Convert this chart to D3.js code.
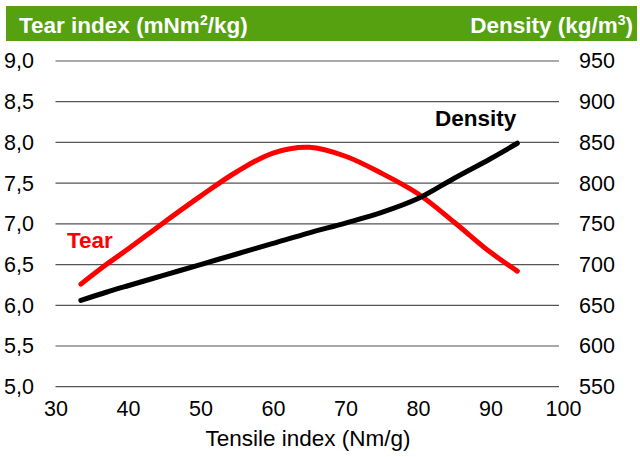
<!DOCTYPE html>
<html><head><meta charset="utf-8">
<script src="https://cdn.jsdelivr.net/npm/d3@7"></script>
<style>body{margin:0;background:#fff}svg{display:block;font-family:"Liberation Sans",Arial,sans-serif}</style>
</head><body><svg id="c" width="640" height="457"></svg>
<script>
const tensile = [33.5, 37, 40, 45, 50, 55, 60, 65, 70, 75, 80, 85, 90, 93.7];
const tear    = [6.26, 6.5, 6.69, 7.02, 7.34, 7.64, 7.87, 7.94, 7.83, 7.62, 7.37, 7.02, 6.65, 6.42];
const density = [656, 666, 674, 687, 700, 713, 726, 739, 751, 764, 781, 806, 830, 849];
const xTicks = [30, 40, 50, 60, 70, 80, 90, 100];
const tearTicks = [5.0, 5.5, 6.0, 6.5, 7.0, 7.5, 8.0, 8.5, 9.0];
const densTicks = [550, 600, 650, 700, 750, 800, 850, 900, 950];

const FONT = "Liberation Sans, Arial, sans-serif";
const svg = d3.select("#c");
const x = d3.scaleLinear().domain([30, 100]).range([55.5, 563]);
const yL = d3.scaleLinear().domain([5, 9]).range([386.7, 61]);
const yR = d3.scaleLinear().domain([550, 950]).range([386.7, 61]);

// header bar
svg.append("rect").attr("x", 6).attr("y", 6).attr("width", 631).attr("height", 35).attr("fill", "#55a10f");
const hl = svg.append("text").attr("x", 19).attr("y", 33).attr("fill", "#fff")
  .attr("font-size", 22.5).attr("font-weight", "bold");
hl.append("tspan").text("Tear index (mNm");
hl.append("tspan").attr("font-size", 14).attr("dy", -8).text("2");
hl.append("tspan").attr("dy", 8).text("/kg)");
const hr = svg.append("text").attr("x", 633).attr("y", 33).attr("fill", "#fff")
  .attr("font-size", 22.5).attr("font-weight", "bold").attr("text-anchor", "end");
hr.append("tspan").text("Density (kg/m");
hr.append("tspan").attr("font-size", 14).attr("dy", -8).text("3");
hr.append("tspan").attr("dy", 8).text(")");

// gridlines
svg.append("g").selectAll("line").data(tearTicks).join("line")
  .attr("x1", x(30)).attr("x2", x(100) - 4)
  .attr("y1", d => yL(d)).attr("y2", d => yL(d))
  .attr("stroke", "#555").attr("stroke-width", 1.2);

// left axis
const fmt = d => d.toFixed(1).replace(".", ",");
const gl = svg.append("g").attr("transform", `translate(34,0)`)
  .call(d3.axisLeft(yL).tickValues(tearTicks).tickFormat(fmt).tickSize(0).tickPadding(0));
gl.select(".domain").remove();
gl.selectAll("text").attr("font-size", 21.5).attr("fill", "#000").attr("font-family", FONT);

// right axis
const gr = svg.append("g").attr("transform", `translate(579,0)`)
  .call(d3.axisRight(yR).tickValues(densTicks).tickFormat(d3.format("d")).tickSize(0).tickPadding(0));
gr.select(".domain").remove();
gr.selectAll("text").attr("font-size", 21.5).attr("fill", "#000").attr("font-family", FONT);

// bottom axis
const gb = svg.append("g").attr("transform", `translate(0,401)`)
  .call(d3.axisBottom(x).tickValues(xTicks).tickFormat(d3.format("d")).tickSize(0).tickPadding(0));
gb.select(".domain").remove();
gb.selectAll("text").attr("font-size", 21.5).attr("fill", "#000").attr("font-family", FONT);

svg.append("text").attr("x", 308).attr("y", 446).attr("text-anchor", "middle")
  .attr("font-size", 22.5).text("Tensile index (Nm/g)");

// lines
const curve = d3.curveCatmullRom.alpha(0.5);
const lineTear = d3.line().x((d, i) => x(tensile[i])).y(d => yL(d)).curve(curve);
const lineDens = d3.line().x((d, i) => x(tensile[i])).y(d => yR(d)).curve(curve);
svg.append("path").attr("d", lineTear(tear)).attr("fill", "none").attr("stroke", "#ff0000")
  .attr("stroke-width", 5).attr("stroke-linecap", "round").attr("stroke-linejoin", "round");
svg.append("path").attr("d", lineDens(density)).attr("fill", "none").attr("stroke", "#000")
  .attr("stroke-width", 5).attr("stroke-linecap", "round").attr("stroke-linejoin", "round");

// labels
svg.append("text").attr("x", 67).attr("y", 248).attr("fill", "#ff0000").attr("font-size", 22.5)
  .attr("font-weight", "bold").text("Tear");
svg.append("text").attr("x", 435).attr("y", 126).attr("fill", "#000").attr("font-size", 22.5)
  .attr("font-weight", "bold").text("Density");
</script></body></html>
